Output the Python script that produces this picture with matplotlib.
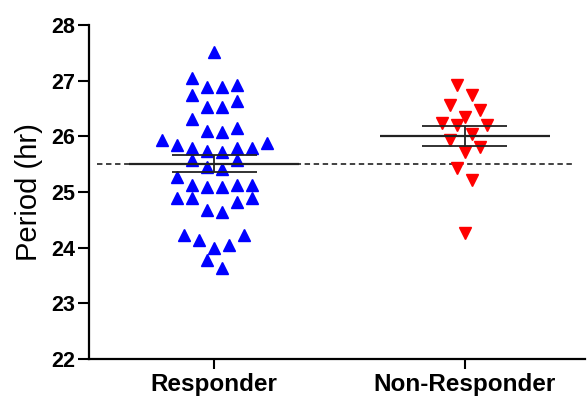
import numpy as np
import matplotlib.pyplot as plt

plt.rcParams['font.family'] = ['Liberation Sans', 'DejaVu Sans']

# Period values (hr)
groups = ['Responder', 'Non-Responder']
responder = [27.51, 27.05, 26.92, 26.89, 26.89, 26.74, 26.63, 26.53, 26.53,
             26.31, 26.15, 26.10, 26.08, 25.93, 25.88, 25.84, 25.79, 25.79,
             25.79, 25.74, 25.72, 25.57, 25.57, 25.45, 25.41, 25.27, 25.13,
             25.13, 25.13, 25.09, 25.09, 24.89, 24.89, 24.89, 24.82, 24.68,
             24.64, 24.23, 24.23, 24.14, 24.05, 23.99, 23.78, 23.63]
non_responder = [26.92, 26.74, 26.56, 26.47, 26.35, 26.24, 26.20, 26.20,
                 26.04, 25.93, 25.81, 25.72, 25.43, 25.22, 24.26]
threshold = 25.5


def swarm_offsets(values, row_height=0.27, spacing=0.06):
    # GraphPad-like scatter: walk down the sorted values, start a new row
    # when a value is more than row_height below the row's first value,
    # then spread each row symmetrically, highest values on the outside
    values = np.asarray(values)
    order = np.argsort(-values, kind='stable')
    rows, current = [], [order[0]]
    for idx in order[1:]:
        if values[current[0]] - values[idx] > row_height:
            rows.append(current)
            current = [idx]
        else:
            current.append(idx)
    rows.append(current)

    offsets = np.zeros(len(values))
    for row in rows:
        n = len(row)
        slots = (np.arange(n) - (n - 1) / 2) * spacing
        # outermost slots first, alternating left / right
        slot_order = []
        lo, hi = 0, n - 1
        while lo <= hi:
            slot_order.append(lo)
            if hi != lo:
                slot_order.append(hi)
            lo += 1
            hi -= 1
        for idx, s in zip(row, slot_order):
            offsets[idx] = slots[s]
    return offsets


fig = plt.figure(figsize=(5.88, 3.98), dpi=100)
ax = fig.add_axes([0.1514, 0.098, 0.8435, 0.8392])

styles = [('^', '#0000ff'), ('v', '#ff0000')]
line_color = '#222222'

for i, (values, (marker, color)) in enumerate(zip([responder, non_responder], styles)):
    x = i + swarm_offsets(values)
    ax.plot(x, values, linestyle='none', marker=marker, ms=9,
            color=color, mec=color, zorder=2)

    mean = np.mean(values)
    sem = np.std(values, ddof=1) / np.sqrt(len(values))
    ax.hlines(mean, i - 0.34, i + 0.34, color=line_color, lw=1.6, zorder=3)
    ax.hlines([mean - sem, mean + sem], i - 0.17, i + 0.17, color=line_color, lw=1.3, zorder=3)
    ax.vlines(i, mean - sem, mean + sem, color=line_color, lw=1.3, zorder=3)

ax.hlines(threshold, -0.47, 1.43, color='#333333', lw=1.3,
          linestyles=(0, (3, 2)), zorder=1)

ax.set_xlim(-0.5, 1.48)
ax.set_ylim(22, 28)
ax.set_yticks(range(22, 29))
ax.set_xticks(range(len(groups)))
ax.set_xticklabels(groups, fontsize=17.5, fontweight='bold')
for lbl in ax.get_yticklabels():
    lbl.set_fontsize(15.5)
    lbl.set_fontweight('bold')

ax.set_ylabel('Period (hr)', fontsize=21, labelpad=6)

for side in ['top', 'right']:
    ax.spines[side].set_visible(False)
for side in ['left', 'bottom']:
    ax.spines[side].set_linewidth(1.6)
ax.tick_params(axis='y', length=8, width=1.5, pad=2)
ax.tick_params(axis='x', length=7, width=1.5, pad=3)

fig.savefig('out.png', dpi=100)
